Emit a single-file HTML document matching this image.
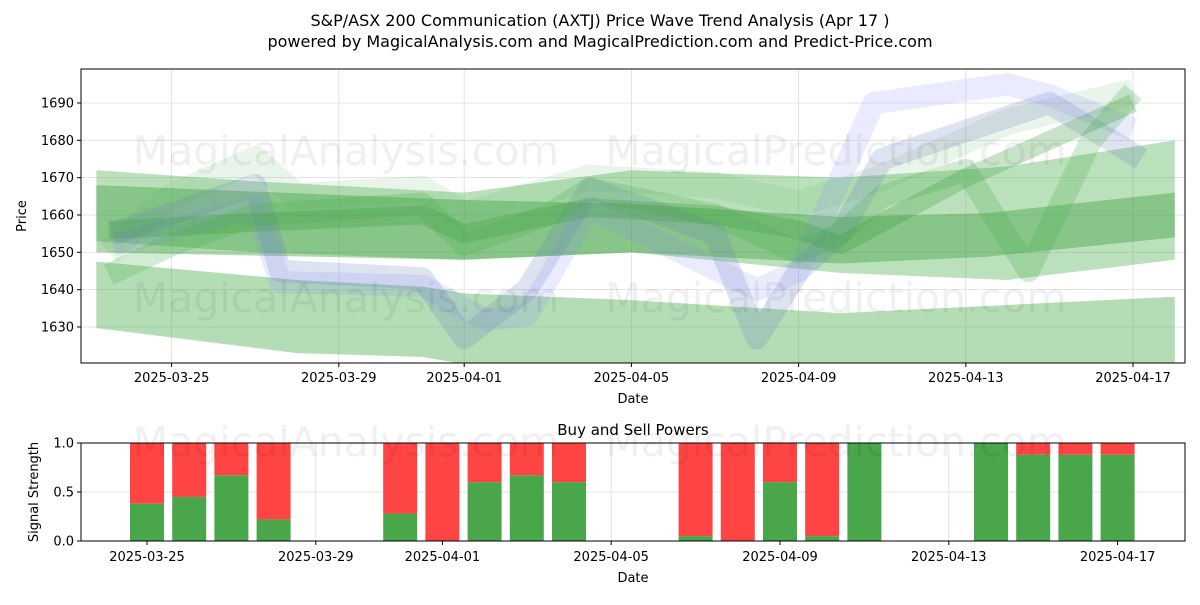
<!DOCTYPE html>
<html><head><meta charset="utf-8"><style>
body{margin:0;background:#fff;font-family:"Liberation Sans","DejaVu Sans",sans-serif}
svg text{font-family:"DejaVu Sans","Liberation Sans",sans-serif}
</style></head><body>
<svg id="c" width="1200" height="600" xmlns="http://www.w3.org/2000/svg">
<text x="600" y="26" text-anchor="middle" font-size="16">S&amp;P/ASX 200 Communication (AXTJ) Price Wave Trend Analysis (Apr 17 )</text>
<text x="600" y="47" text-anchor="middle" font-size="16">powered by MagicalAnalysis.com and MagicalPrediction.com and Predict-Price.com</text>
<g id="topg"></g><g id="botg"></g>
</svg>
<script>
// x values are day offsets from 2025-03-23
const xTickDays=[2,6,9,13,17,21,25];
const xTickLabels=["2025-03-25","2025-03-29","2025-04-01","2025-04-05","2025-04-09","2025-04-13","2025-04-17"];
const yTicks=[1630,1640,1650,1660,1670,1680,1690];
const lowBand_x=[0.2,5,8,9,13,18,25.8,26];
const lowBand_top=[1647.5,1642.6,1640.8,1639,1637.2,1633.7,1638,1638];
const lowBand_bot=[1629.7,1623,1622,1620,1618,1615,1617,1610];
const wideBand_x=[0.2,4,9,13,18,22,26];
const wideBand_top=[1672,1669,1666,1672,1670,1673,1680];
const wideBand_bot=[1653,1650,1648,1650,1644.5,1642.6,1648];
const darkBand_x=[0.2,9,13,18,21.5,26];
const darkBand_top=[1668,1664,1663,1659.5,1660.5,1666];
const darkBand_bot=[1650,1648,1650,1647,1648.8,1654];
const blue1_x=[0.6,4,4.6,8,9,10.5,12,15,16,17,18,19,23,25.2];
const blue1_y=[1655,1668,1645,1643,1627,1640,1667,1655,1627,1645,1655,1675,1690,1675];
const blue2_x=[0.6,4,4.6,8,9.5,10.5,12,16,17,18.8,22,23,25];
const blue2_y=[1652,1662,1642,1641,1632,1633,1662,1640,1645,1690,1695,1692,1683];
const greenOsc_x=[0.5,2,4,8,9,11,12,15,17,18,19,21,22.5,24,25];
const greenOsc_y=[1644,1652,1660,1663,1652,1660,1667,1660,1650,1655,1665,1672,1645,1680,1693];
const greenTop_x=[0.5,2,4,5,8,9,12,15,17,19,22,25];
const greenTop_y=[1650,1665,1675,1665,1667,1660,1670,1668,1663,1670,1685,1693];
const greenRise_x=[0.5,4,8,9,12,15,17,18,21,25];
const greenRise_y=[1656,1658,1660,1655,1662,1660,1656,1652,1670,1690];
const barDays=[2,3,4,5,8,9,10,11,12,15,16,17,18,19,22,23,24,25];
const buyVals=[0.38,0.45,0.67,0.22,0.28,0.0,0.6,0.67,0.6,0.05,0.0,0.6,0.05,1.0,1.0,0.88,0.88,0.88];
const bTicks=[0,0.5,1.0];

const NS="http://www.w3.org/2000/svg";
const X=d=>88+d*41.8;
const XB=d=>147+(d-2)*42.2;
const Y=v=>103+(1690-v)*3.733;
const YB=v=>541-v*98;
function mk(p,t,a){const e=document.createElementNS(NS,t);for(const k in a)e.setAttribute(k,a[k]);p.appendChild(e);return e;}
const topG=document.getElementById('topg'), botG=document.getElementById('botg');
xTickDays.forEach((d,i)=>{
 mk(topG,'line',{x1:X(d),x2:X(d),y1:69,y2:363,stroke:'#ddd','stroke-width':0.8});
 mk(topG,'line',{x1:X(d),x2:X(d),y1:363,y2:367,stroke:'#000'});
 const t=mk(topG,'text',{x:X(d),y:382,'text-anchor':'middle','font-size':13});t.textContent=xTickLabels[i];
 
 
});
yTicks.forEach(v=>{
 mk(topG,'line',{x1:81,x2:1185,y1:Y(v),y2:Y(v),stroke:'#ddd','stroke-width':0.8});
 mk(topG,'line',{x1:77,x2:81,y1:Y(v),y2:Y(v),stroke:'#000'});
 const t=mk(topG,'text',{x:74,y:Y(v)+4.5,'text-anchor':'end','font-size':13});t.textContent=v;
 
 
});
const cp=mk(topG,'clipPath',{id:'cl'});mk(cp,'rect',{x:81,y:69,width:1104,height:294});
const g=mk(topG,'g',{'clip-path':'url(#cl)'});
function fillBand(xs,tops,bots,col,op,name){
 const pts=xs.map((d,i)=>X(d)+','+Y(tops[i])).concat(xs.map((d,i)=>X(d)+','+Y(bots[i])).reverse()).join(' ');
 const p=mk(g,'polygon',{points:pts,fill:col,'fill-opacity':op});
 
 
}
function track(xs,ys,w,col,op,name){
 const p=mk(g,'polyline',{points:xs.map((d,i)=>X(d)+','+Y(ys[i])).join(' '),fill:'none',stroke:col,'stroke-width':w*3.733,'stroke-opacity':op,'stroke-linejoin':'round'});
 
 
}
fillBand(lowBand_x,lowBand_top,lowBand_bot,'#4caf50',0.42,'wave-band-low');
fillBand(wideBand_x,wideBand_top,wideBand_bot,'#4caf50',0.38,'wave-band-wide');
fillBand(darkBand_x,darkBand_top,darkBand_bot,'#3a9a3a',0.4,'wave-band-mid');
track(greenTop_x,greenTop_y,7,'#4caf50',0.12,'wave-green-top');
track(blue2_x,blue2_y,6,'#8080ff',0.16,'wave-blue-2');
track(blue1_x,blue1_y,6,'#6a80c0',0.22,'wave-blue-1');
track(greenOsc_x,greenOsc_y,6,'#4caf50',0.25,'wave-green-osc');
track(greenRise_x,greenRise_y,5,'#3a9a3a',0.28,'wave-green-rise');
[[346,165],[836,165],[346,312],[836,312]].forEach(([x,y],i)=>{
 const t=mk(topG,'text',{x:x,y:y,'text-anchor':'middle','font-size':41,fill:'#000','fill-opacity':0.06});
 t.textContent=i%2?'MagicalPrediction.com':'MagicalAnalysis.com';
 
 
});
const frame=mk(topG,'rect',{x:81,y:69,width:1104,height:294,fill:'none',stroke:'#000'});


const xl=mk(topG,'text',{x:633,y:403,'text-anchor':'middle','font-size':13});xl.textContent='Date';


const yl=mk(topG,'text',{x:26,y:216,'text-anchor':'middle','font-size':13,transform:'rotate(-90 26 216)'});yl.textContent='Price';


const bt=mk(botG,'text',{x:633,y:435,'text-anchor':'middle','font-size':15});bt.textContent='Buy and Sell Powers';


xTickDays.forEach((d,i)=>{
 mk(botG,'line',{x1:XB(d),x2:XB(d),y1:443,y2:541,stroke:'#ddd','stroke-width':0.8});
 mk(botG,'line',{x1:XB(d),x2:XB(d),y1:541,y2:545,stroke:'#000'});
 const t=mk(botG,'text',{x:XB(d),y:561,'text-anchor':'middle','font-size':13});t.textContent=xTickLabels[i];
 
 
});
bTicks.forEach(v=>{
 mk(botG,'line',{x1:81,x2:1185,y1:YB(v),y2:YB(v),stroke:'#ddd','stroke-width':0.8});
 mk(botG,'line',{x1:77,x2:81,y1:YB(v),y2:YB(v),stroke:'#000'});
 const t=mk(botG,'text',{x:74,y:YB(v)+4.5,'text-anchor':'end','font-size':13});t.textContent=v.toFixed(1);
 
 
});
barDays.forEach((d,i)=>{
 const b=buyVals[i];
 const r=mk(botG,'rect',{x:XB(d)-17,y:YB(1),width:34,height:YB(b)-YB(1),fill:'#ff4444'});
 
 
 const q=mk(botG,'rect',{x:XB(d)-17,y:YB(b),width:34,height:YB(0)-YB(b),fill:'#4aa64a'});
 
 
});
[[346,456],[836,456]].forEach(([x,y],i)=>{
 const t=mk(botG,'text',{x:x,y:y,'text-anchor':'middle','font-size':41,fill:'#000','fill-opacity':0.06});
 t.textContent=i?'MagicalPrediction.com':'MagicalAnalysis.com';
 
 
});
const bf=mk(botG,'rect',{x:81,y:443,width:1104,height:98,fill:'none',stroke:'#000'});


const bx=mk(botG,'text',{x:633,y:582,'text-anchor':'middle','font-size':13});bx.textContent='Date';


const by=mk(botG,'text',{x:38,y:492,'text-anchor':'middle','font-size':13,transform:'rotate(-90 38 492)'});by.textContent='Signal Strength';


</script>
</body></html>
